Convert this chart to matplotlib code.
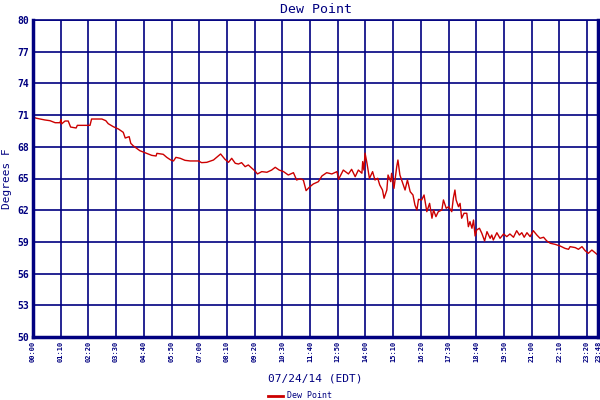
import matplotlib
matplotlib.use('Agg')
import matplotlib.pyplot as plt
from matplotlib.transforms import ScaledTranslation

# minutes since midnight, dew point in F
minutes = [0, 9, 18, 30, 43, 56, 68, 71, 72, 81, 89, 95, 109, 112, 144, 148, 174, 184, 190,
           203, 216, 228, 233, 243, 247, 253, 270, 287, 300, 311, 313, 329, 338, 348, 355,
           361, 372, 384, 397, 418, 426, 439, 456, 464, 474, 485, 494, 502, 511, 519, 527,
           536, 544, 553, 561, 567, 578, 591, 603, 612, 622, 633, 645, 658, 666, 675, 683,
           690, 698, 708, 721, 730, 742, 755, 768, 772, 784, 797, 805, 814, 822, 831, 833,
           836, 839, 844, 850, 858, 864, 871, 876, 883, 887, 894, 897, 904, 906, 912, 919,
           922, 927, 940, 946, 953, 960, 965, 970, 974, 982, 988, 995, 1002, 1008, 1012,
           1018, 1024, 1033, 1037, 1044, 1050, 1058, 1062, 1066, 1069, 1075, 1079, 1083,
           1089, 1096, 1100, 1104, 1109, 1113, 1117, 1121, 1128, 1134, 1141, 1147, 1155,
           1159, 1163, 1172, 1180, 1189, 1197, 1205, 1214, 1222, 1229, 1235, 1241, 1248,
           1256, 1264, 1273, 1281, 1290, 1298, 1307, 1319, 1332, 1344, 1353, 1357, 1370,
           1378, 1387, 1395, 1403, 1412, 1420, 1428]
dew_point = [70.8, 70.7, 70.63, 70.54, 70.47, 70.28, 70.28, 70.6, 70.16, 70.44, 70.44, 69.87,
             69.78, 70.03, 70.03, 70.63, 70.63, 70.47, 70.19, 69.9, 69.68, 69.37, 68.83, 68.96,
             68.33, 68.1, 67.63, 67.38, 67.19, 67.13, 67.38, 67.29, 67.0, 66.75, 66.66, 67.0,
             66.91, 66.72, 66.66, 66.66, 66.5, 66.53, 66.75, 67.0, 67.32, 66.82, 66.53, 66.91,
             66.44, 66.37, 66.5, 66.12, 66.28, 65.97, 65.71, 65.43, 65.65, 65.59, 65.8, 66.06,
             65.8, 65.65, 65.33, 65.55, 64.86, 64.98, 64.86, 63.85, 64.17, 64.48, 64.7, 65.24,
             65.55, 65.43, 65.65, 64.92, 65.8, 65.43, 65.87, 65.17, 65.8, 65.5, 66.6, 65.8,
             67.4, 66.4, 65.0, 65.65, 64.86, 65.02, 64.39, 63.91, 63.13, 63.91, 65.33, 64.7,
             65.49, 64.07, 66.12, 66.75, 65.33, 63.91, 64.86, 63.75, 63.44, 62.49, 62.02, 63.03,
             62.97, 63.44, 61.86, 62.65, 61.24, 62.02, 61.39, 61.86, 62.02, 62.97, 62.18, 62.33,
             61.86, 63.13, 63.91, 62.97, 62.33, 62.65, 61.24, 61.71, 61.71, 60.44, 60.92, 60.29,
             61.07, 59.56, 60.13, 60.29, 59.81, 59.09, 59.97, 59.34, 59.65, 59.18, 59.87, 59.34,
             59.75, 59.5, 59.75, 59.44, 60.06, 59.65, 59.87, 59.44, 59.87, 59.5, 60.06, 59.65,
             59.34, 59.44, 59.09, 58.87, 58.77, 58.61, 58.39, 58.3, 58.55, 58.46, 58.3, 58.55,
             58.17, 57.92, 58.23, 57.98, 57.73]

x_ticks = list(range(0, 1401, 70)) + [1428]
x_labels = ['00:00', '01:10', '02:20', '03:30', '04:40', '05:50', '07:00', '08:10', '09:20',
            '10:30', '11:40', '12:50', '14:00', '15:10', '16:20', '17:30', '18:40', '19:50',
            '21:00', '22:10', '23:20', '23:48']
y_ticks = [50, 53, 56, 59, 62, 65, 68, 71, 74, 77, 80]

navy = '#000080'
mono = 'DejaVu Sans Mono'

fig = plt.figure(figsize=(6, 4), dpi=100)
ax = fig.add_axes([0.055, 0.1575, 0.942, 0.7925])

ax.plot(minutes, dew_point, color='#cc0000', linewidth=1.0, label='Dew Point')

ax.set_xlim(0, 1428)
ax.set_ylim(50, 80)
ax.set_xticks(x_ticks)
ax.set_xticklabels(x_labels, rotation=90, fontsize=5, family=mono, color=navy, fontweight='bold')
# nudge the last label left so it stays inside the figure
last = ax.get_xticklabels()[-1]
last.set_transform(last.get_transform() + ScaledTranslation(-3 / 100, 0, fig.dpi_scale_trans))
ax.set_yticks(y_ticks)
ax.set_yticklabels([str(v) for v in y_ticks], fontsize=7, family=mono, color=navy, fontweight='bold')
ax.tick_params(length=0, pad=3)
ax.grid(True, color=navy, linewidth=1.2)
ax.set_axisbelow(True)
for side in ['left', 'right', 'bottom']:
    ax.spines[side].set_color(navy)
    ax.spines[side].set_linewidth(2.5)
ax.spines['top'].set_color(navy)
ax.spines['top'].set_linewidth(1.2)

ax.set_title('Dew Point', fontsize=9.5, family=mono, color=navy, pad=5)
ax.set_ylabel('Degrees F', fontsize=8, family=mono, color=navy, labelpad=4)
ax.set_xlabel('07/24/14 (EDT)', fontsize=8, family=mono, color=navy, labelpad=8)

leg = fig.legend(loc='lower center', bbox_to_anchor=(0.5, -0.02), frameon=False,
                 prop={'family': mono, 'size': 6}, labelcolor=navy, handlelength=1.8,
                 handletextpad=0.4)
for h in leg.get_lines():
    h.set_linewidth(2)

fig.savefig('out.png', dpi=100)
